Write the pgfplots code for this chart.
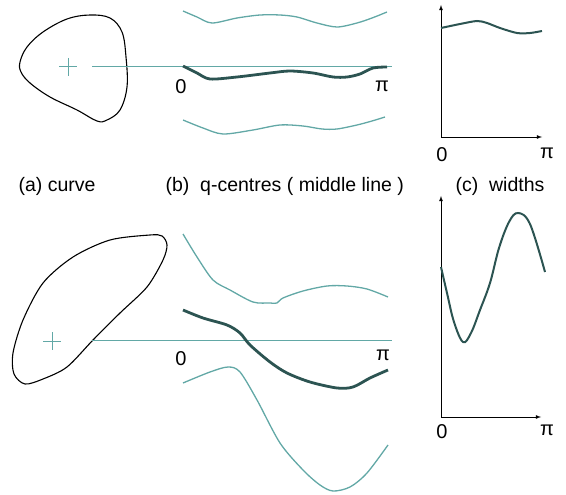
\documentclass[border=0pt]{standalone}
\usepackage{pgfplots}
\pgfplotsset{compat=1.18}
\usepackage{fontspec}
\setmainfont{Liberation Sans}
\definecolor{teal1}{HTML}{62A8A6}
\definecolor{dark1}{HTML}{2C5452}
\newcommand\lbl{\fontsize{20}{20}\selectfont}
\begin{document}
\begin{tikzpicture}
\begin{axis}[
  x=1pt, y=1pt, y dir=reverse,
  xmin=0, xmax=566, ymin=0, ymax=495,
  hide axis, clip=false, scale only axis,
]
% ---------- top row: (a) curve ----------
\addplot[black, line width=1.1pt, smooth cycle, tension=0.6] coordinates {
  (20,62) (27,47) (43,32) (67,19) (90,15) (110,18) (122,32) (126,57) (127,87)
  (120,110) (107,120) (97,121) (77,110) (50,97) (30,83) (21,72)};
\addplot[teal1, line width=1pt] coordinates {(59,67) (77,67)};
\addplot[teal1, line width=1pt] coordinates {(68,58) (68,76)};
\addplot[teal1, line width=1pt] coordinates {(92,67) (392,67)};
% (b) q-centres
\addplot[teal1, line width=1.3pt, smooth] coordinates {
  (183,11) (197,17) (212,23) (237,18) (260,15) (280,15) (297,17) (317,23) (337,27)
  (357,23) (372,18) (387,12)};
\addplot[dark1, line width=2.8pt, smooth] coordinates {
  (183,66) (197,73) (210,79) (237,77) (270,73) (290,71) (313,73) (333,77) (347,77)
  (360,74) (373,68) (387,67)};
\addplot[teal1, line width=1.3pt, smooth] coordinates {
  (183,120) (203,128) (223,134) (253,130) (280,125) (303,126) (322,129) (337,129)
  (357,125) (372,121) (385,117)};
\node[font=\lbl] at (axis cs:181,87) {0};
\node[font=\lbl] at (axis cs:382,86) {π};
% (c) widths
\addplot[black, line width=0.8pt, -latex] coordinates {(441,137) (441,5)};
\addplot[black, line width=0.8pt, -latex] coordinates {(441,137) (542,137)};
\addplot[dark1, line width=2pt, smooth] coordinates {
  (441,28) (460,24) (477,21) (487,23) (500,28) (517,33) (530,33) (542,31)};
\node[font=\lbl] at (axis cs:442,155) {0};
\node[font=\lbl] at (axis cs:547,153) {π};
% ---------- captions ----------
\node[anchor=base west, font=\fontsize{19.5}{20}\selectfont] at (axis cs:15,192) {(a) curve};
\node[anchor=base west, font=\fontsize{19.5}{20}\selectfont] at (axis cs:162,192) {(b)\ \ q-centres ( middle line )};
\node[anchor=base west, font=\fontsize{19.5}{20}\selectfont] at (axis cs:452,192) {(c)\ \ widths};
% ---------- bottom row: (a) curve ----------
\addplot[black, line width=1.1pt, smooth cycle, tension=0.5] coordinates {
  (150,235) (110,240) (73,257) (43,283) (23,320) (13,353) (14,374) (25,384)
  (43,379) (67,367) (93,340) (120,313) (147,287) (163,260) (167,245) (162,236)};
\addplot[teal1, line width=1pt] coordinates {(43,341) (61,341)};
\addplot[teal1, line width=1pt] coordinates {(52,332) (52,350)};
\addplot[teal1, line width=1pt] coordinates {(92,340) (392,340)};
% (b) q-centres
\addplot[teal1, line width=1.3pt, smooth] coordinates {
  (183,234) (197,257) (213,280) (230,290) (253,302) (270,303) (277,303) (283,298)
  (303,291) (327,286) (347,286) (367,289) (388,297)};
\addplot[dark1, line width=2.8pt, smooth] coordinates {
  (183,310) (203,318) (227,325) (240,333) (250,345) (270,362) (287,373) (310,382)
  (337,388) (353,387) (370,378) (388,370)};
\addplot[teal1, line width=1.3pt, smooth] coordinates {
  (183,383) (210,372) (228,367) (240,372) (257,400) (280,443) (303,470) (320,485)
  (333,491) (350,487) (367,473) (388,445)};
\node[font=\lbl] at (axis cs:181,359) {0};
\node[font=\lbl] at (axis cs:383,355) {π};
% (c) widths
\addplot[black, line width=0.8pt, -latex] coordinates {(441,417) (441,196)};
\addplot[black, line width=0.8pt, -latex] coordinates {(441,417) (541,417)};
\addplot[dark1, line width=2pt, smooth, tension=0.6] coordinates {
  (441,267) (447,293) (454,322) (463,342) (471,333) (480,310) (490,283) (499,248)
  (509,222) (518,213) (530,224) (545,272)};
\node[font=\lbl] at (axis cs:442,432) {0};
\node[font=\lbl] at (axis cs:547,430) {π};
\end{axis}
% keep the whole drawing area as the page
\path (current axis.south west) rectangle (current axis.north east);
\end{tikzpicture}
\end{document}
